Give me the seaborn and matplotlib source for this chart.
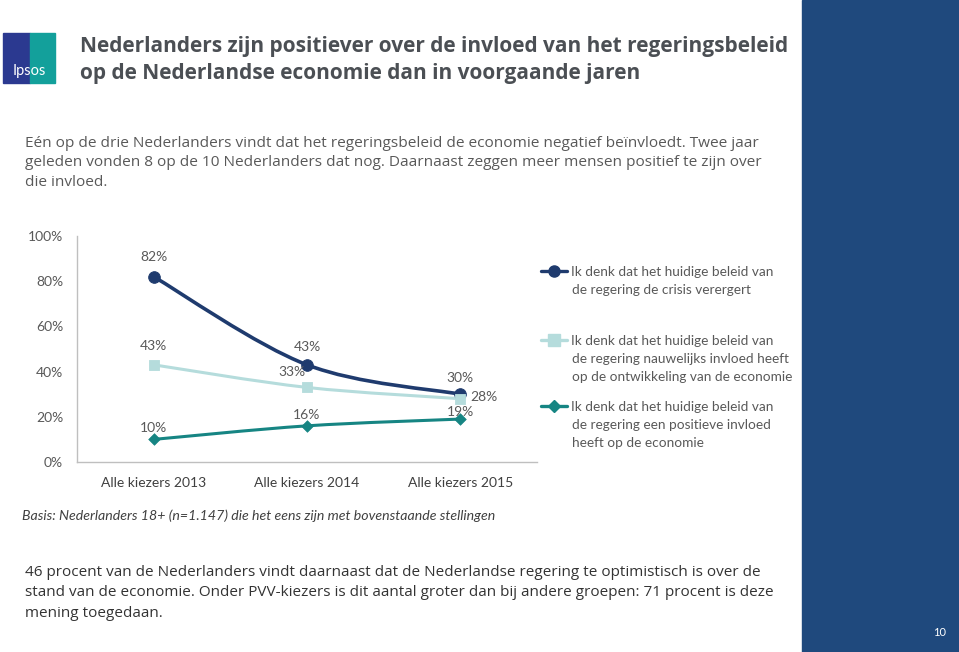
"""Ipsos slide: opinion on the influence of government policy on the economy."""
import matplotlib

matplotlib.use("Agg")
import matplotlib.pyplot as plt
import numpy as np
import pandas as pd
import seaborn as sns
from matplotlib.lines import Line2D
from matplotlib.patches import PathPatch, Rectangle
from matplotlib.path import Path

# data
years = ["Alle kiezers 2013", "Alle kiezers 2014", "Alle kiezers 2015"]
verergert = [82, 43, 30]
nauwelijks = [43, 33, 28]
positief = [10, 16, 19]

series_names = [
    ["Ik denk dat het huidige beleid van", "de regering de crisis verergert"],
    ["Ik denk dat het huidige beleid van", "de regering nauwelijks invloed heeft",
     "op de ontwikkeling van de economie"],
    ["Ik denk dat het huidige beleid van", "de regering een positieve invloed",
     "heeft op de economie"],
]
y_ticks = [0, 20, 40, 60, 80, 100]

title = ("Nederlanders zijn positiever over de invloed van het regeringsbeleid\n"
         "op de Nederlandse economie dan in voorgaande jaren")
intro = ("Eén op de drie Nederlanders vindt dat het regeringsbeleid de economie negatief beïnvloedt. Twee jaar\n"
         "geleden vonden 8 op de 10 Nederlanders dat nog. Daarnaast zeggen meer mensen positief te zijn over\n"
         "die invloed.")
basis = "Basis: Nederlanders 18+ (n=1.147) die het eens zijn met bovenstaande stellingen"
outro = ("46 procent van de Nederlanders vindt daarnaast dat de Nederlandse regering te optimistisch is over de\n"
         "stand van de economie. Onder PVV-kiezers is dit aantal groter dan bij andere groepen: 71 procent is deze\n"
         "mening toegedaan.")
page_no = "10"

colors = ["#1f3b6e", "#b5dcdc", "#168583"]
markers = ["o", "s", "D"]
marker_sizes = [70, 60, 35]
# label offsets (points) per series / point, text centred
offsets = [
    [(0, 14.4), (0, 13), (0, 11.5)],
    [(0, 13.7), (-11, 11), (17, 1.5)],
    [(0, 8), (0, 8), (0, 5)],
]

sns.set_theme(style="white")
plt.rcParams["font.family"] = ["Lato", "DejaVu Sans"]

W, H = 959, 652
fig = plt.figure(figsize=(W / 100, H / 100), dpi=100)
fig.patch.set_facecolor("white")


def fx(px):
    return px / W


def fy(py):
    return 1 - py / H


# right blue band
fig.add_artist(Rectangle((fx(802), 0), 1 - fx(802), 1, transform=fig.transFigure,
                         color="#1f497d", zorder=0))
fig.text(fx(946), fy(633), page_no, color="white", fontsize=8, ha="right", va="center")

# logo
fig.add_artist(Rectangle((fx(3), fy(83)), fx(27), fy(33) - fy(83), transform=fig.transFigure,
                         color="#2b3990"))
fig.add_artist(Rectangle((fx(30), fy(83)), fx(25), fy(33) - fy(83), transform=fig.transFigure,
                         color="#13a09b"))
fig.text(fx(29), fy(71), "Ipsos", color="white", fontsize=10.5, ha="center", va="center")

fig.text(fx(80), fy(60), title, fontsize=15, fontweight="bold", color="#4b4f54",
         family=["Open Sans", "DejaVu Sans"], va="center", linespacing=1.35)
fig.text(fx(25), fy(163), intro, fontsize=11.1, color="#595959",
         family=["Open Sans", "DejaVu Sans"], va="center", linespacing=1.45)
fig.text(fx(22), fy(516), basis, fontsize=10.15, style="italic", color="#404040", va="center")
fig.text(fx(25), fy(593), outro, fontsize=10.95, color="#333333",
         family=["Open Sans", "DejaVu Sans"], va="center", linespacing=1.5)

# chart
ax = fig.add_axes([fx(77), fy(462), fx(537) - fx(77), fy(236) - fy(462)])
df = pd.DataFrame({"jaar": years, "verergert": verergert,
                   "nauwelijks": nauwelijks, "positief": positief})
xs = np.arange(len(years))

for i, col in enumerate(["verergert", "nauwelijks", "positief"]):
    vals = df[col].to_numpy(dtype=float)
    # Excel-like smoothed line (Catmull-Rom as cubic Bezier)
    pts = np.column_stack([xs, vals])
    verts = [tuple(pts[0])]
    codes = [Path.MOVETO]
    for k in range(len(pts) - 1):
        p0 = pts[k - 1] if k > 0 else pts[k]
        p1, p2 = pts[k], pts[k + 1]
        p3 = pts[k + 2] if k + 2 < len(pts) else pts[k + 1]
        c1 = p1 + (p2 - p0) / 6
        c2 = p2 - (p3 - p1) / 6
        verts += [tuple(c1), tuple(c2), tuple(p2)]
        codes += [Path.CURVE4] * 3
    ax.add_patch(PathPatch(Path(verts, codes), fill=False, edgecolor=colors[i],
                           lw=2.6 if i == 0 else 2.2, zorder=2, capstyle="round"))
    sns.scatterplot(x=xs, y=vals, ax=ax, marker=markers[i], s=marker_sizes[i],
                    color=colors[i], edgecolor=colors[i], zorder=3, legend=False)
    for k, v in enumerate(vals):
        ax.annotate(f"{int(v)}%", (xs[k], v), xytext=offsets[i][k], textcoords="offset points",
                    ha="center", va="center", fontsize=10, color="#595959")

ax.set_xlim(-0.5, len(years) - 0.5)
ax.set_ylim(0, 100)
ax.set_xticks(xs)
ax.set_xticklabels(years, fontsize=10, color="#404040")
ax.set_xticks(np.arange(len(years) + 1) - 0.5, minor=True)
ax.set_yticks(y_ticks)
ax.set_yticklabels([f"{t}%" for t in y_ticks], fontsize=10, color="#595959")
ax.tick_params(axis="x", which="major", length=0, pad=11)
ax.tick_params(axis="x", which="minor", length=5, color="#bfbfbf", width=1)
ax.tick_params(axis="y", length=4, color="#bfbfbf", pad=6)
for s in ["top", "right"]:
    ax.spines[s].set_visible(False)
for s in ["left", "bottom"]:
    ax.spines[s].set_color("#bfbfbf")
    ax.spines[s].set_linewidth(1)
ax.set_xlabel("")
ax.set_ylabel("")
ax.set_facecolor("white")

# legend entries: handle next to the first line, further lines below it
legend_lines = [272, 341, 407]
line_step = 17.8
for i, lines in enumerate(series_names):
    h = Line2D([], [], color=colors[i], lw=2.4, marker=markers[i],
               markersize=8 if i < 2 else 6, markerfacecolor=colors[i], markeredgecolor=colors[i])
    fig.legend([h], [lines[0]], loc="center left", bbox_to_anchor=(fx(541), fy(legend_lines[i])),
               frameon=False, fontsize=9.8, handlelength=1.9, handletextpad=0.3,
               borderpad=0, borderaxespad=0, labelcolor="#595959")
    for j, extra in enumerate(lines[1:], start=1):
        fig.text(fx(572), fy(legend_lines[i] + j * line_step), extra, fontsize=9.8,
                 color="#595959", va="center")

fig.savefig("out.png", dpi=100, facecolor="white")
